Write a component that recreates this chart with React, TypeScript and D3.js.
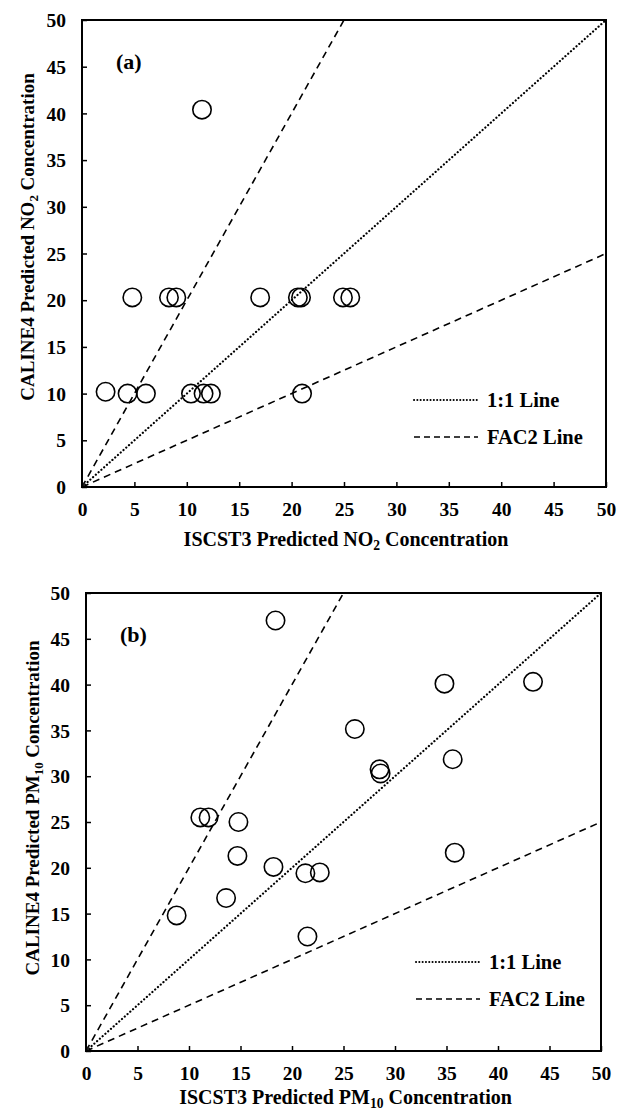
import React, { useEffect, useRef } from 'react';
import * as d3 from 'd3';

// tick values shared by both axes of both panels
const AXIS_TICKS = [0, 5, 10, 15, 20, 25, 30, 35, 40, 45, 50];

// panel (a) NO2 - ISCST3 (x) vs CALINE4 (y)
const NO2_ISCST3 = [11.45, 4.8, 8.3, 9.0, 17.0, 20.6, 20.9, 24.9, 25.6, 2.25, 4.35, 6.1, 10.4, 11.6, 12.3, 21.0];
const NO2_CALINE4 = [40.4, 20.3, 20.3, 20.3, 20.3, 20.3, 20.3, 20.3, 20.3, 10.2, 10.0, 10.0, 10.0, 10.0, 10.0, 10.0];

// panel (b) PM10
const PM10_ISCST3 = [18.4, 11.1, 11.9, 14.8, 34.8, 43.4, 26.1, 28.5, 28.6, 35.6, 14.7, 18.2, 21.3, 22.7, 13.6, 8.8, 21.5, 35.8];
const PM10_CALINE4 = [47.0, 25.5, 25.5, 25.0, 40.1, 40.3, 35.15, 30.75, 30.3, 31.85, 21.3, 20.1, 19.4, 19.5, 16.7, 14.8, 12.5, 21.65];

// reference lines: y = k * x
const REF_LINES = [
  { name: '1:1 Line', slope: 1, style: 'dot' },
  { name: 'FAC2 Line', slope: 2, style: 'dash' },
  { name: 'FAC2 Line', slope: 0.5, style: 'dash' },
];
const LEGEND_ITEMS = [
  { name: '1:1 Line', style: 'dot' },
  { name: 'FAC2 Line', style: 'dash' },
];

const FONT = "'Liberation Serif', 'Times New Roman', 'DejaVu Serif', serif";

const PANELS = [
  {
    label: '(a)', xs: NO2_ISCST3, ys: NO2_CALINE4, species: 'NO', sub: '2',
    left: 82, right: 606, top: 20, bottom: 487,
    yTitleX: 34, yTitleY: 237, xTitleY: 546,
    legendX: 414, legendY: 400,
  },
  {
    label: '(b)', xs: PM10_ISCST3, ys: PM10_CALINE4, species: 'PM', sub: '10',
    left: 86, right: 601, top: 593, bottom: 1051,
    yTitleX: 39, yTitleY: 808, xTitleY: 1104,
    legendX: 416, legendY: 962,
  },
];

const dashFor = (style) => (style === 'dot' ? '0.1 3.6' : '7 5');

const drawPanel = (svg, p) => {
  const x = d3.scaleLinear().domain([0, 50]).range([p.left, p.right]);
  const y = d3.scaleLinear().domain([0, 50]).range([p.bottom, p.top]);
  const g = svg.append('g');

  // reference lines, stop where they leave the 0-50 frame
  REF_LINES.forEach(r => {
    const x1 = Math.min(50, 50 / r.slope);
    g.append('line')
      .attr('x1', x(0)).attr('y1', y(0))
      .attr('x2', x(x1)).attr('y2', y(x1 * r.slope))
      .attr('stroke', '#000')
      .attr('stroke-width', r.style === 'dot' ? 2.2 : 1.6)
      .attr('stroke-linecap', r.style === 'dot' ? 'round' : 'butt')
      .attr('stroke-dasharray', dashFor(r.style));
  });

  // small marker at origin
  g.append('rect')
    .attr('x', x(0) - 1).attr('y', y(0) - 4)
    .attr('width', 4).attr('height', 4)
    .attr('fill', '#222');

  // points
  g.selectAll('circle.pt')
    .data(p.xs.map((v, i) => [v, p.ys[i]]))
    .enter().append('circle')
    .attr('class', 'pt')
    .attr('cx', d => x(d[0]))
    .attr('cy', d => y(d[1]))
    .attr('r', 9.2)
    .attr('fill', 'none')
    .attr('stroke', '#000')
    .attr('stroke-width', 1.6);

  // axes with inside ticks
  const xAxis = g.append('g')
    .attr('transform', `translate(0,${p.bottom})`)
    .call(d3.axisBottom(x).tickValues(AXIS_TICKS).tickSizeInner(-5).tickSizeOuter(0).tickPadding(18));
  const yAxis = g.append('g')
    .attr('transform', `translate(${p.left},0)`)
    .call(d3.axisLeft(y).tickValues(AXIS_TICKS).tickSizeInner(-5).tickSizeOuter(0).tickPadding(16));

  [xAxis, yAxis].forEach(a => {
    a.select('.domain').remove();
    a.selectAll('line').attr('stroke', '#000').attr('stroke-width', 1.5);
    a.selectAll('text')
      .attr('fill', '#000')
      .attr('font-family', FONT)
      .attr('font-weight', 'bold')
      .attr('font-size', 19.5);
  });
  xAxis.selectAll('text').attr('dy', '0.55em');
  yAxis.selectAll('text').attr('dy', '0.34em');

  // frame
  g.append('rect')
    .attr('x', p.left).attr('y', p.top)
    .attr('width', p.right - p.left).attr('height', p.bottom - p.top)
    .attr('fill', 'none')
    .attr('stroke', '#000')
    .attr('stroke-width', 2);

  // panel label
  g.append('text')
    .attr('x', p.left + 34).attr('y', p.top + 49)
    .attr('font-family', FONT).attr('font-weight', 'bold').attr('font-size', 22)
    .text(p.label);

  // legend
  LEGEND_ITEMS.forEach((l, i) => {
    const ly = p.legendY + i * 37;
    g.append('line')
      .attr('x1', p.legendX).attr('x2', p.legendX + 64)
      .attr('y1', ly).attr('y2', ly)
      .attr('stroke', '#000')
      .attr('stroke-width', l.style === 'dot' ? 2 : 1.6)
      .attr('stroke-linecap', l.style === 'dot' ? 'round' : 'butt')
      .attr('stroke-dasharray', l.style === 'dot' ? '0.1 3.2' : '6 4');
    g.append('text')
      .attr('x', p.legendX + 73).attr('y', ly).attr('dy', '0.34em')
      .attr('font-family', FONT).attr('font-weight', 'bold').attr('font-size', 20.5)
      .text(l.name);
  });

  // axis titles with subscripts
  const title = (t, model, size) => {
    t.attr('font-family', FONT).attr('font-weight', 'bold').attr('font-size', size)
      .attr('text-anchor', 'middle');
    t.append('tspan').text(`${model} Predicted ${p.species}`);
    t.append('tspan').attr('dy', 4).attr('font-size', size * 0.68).text(p.sub);
    t.append('tspan').attr('dy', -4).text(' Concentration');
  };
  title(g.append('text').attr('x', (p.left + p.right) / 2 + 2).attr('y', p.xTitleY), 'ISCST3', 20);
  title(g.append('text').attr('transform', `translate(${p.yTitleX},${p.yTitleY}) rotate(-90)`), 'CALINE4', 19);
};

export default function App() {
  const ref = useRef(null);

  useEffect(() => {
    const svg = d3.select(ref.current);
    svg.selectAll('*').remove();
    svg.append('rect').attr('width', 627).attr('height', 1112).attr('fill', '#fff');
    PANELS.forEach(p => drawPanel(svg, p));
  }, []);

  return (
    <svg
      ref={ref}
      width={627}
      height={1112}
      style={{ position: 'absolute', left: 0, top: 0, background: '#fff' }}
    />
  );
}
